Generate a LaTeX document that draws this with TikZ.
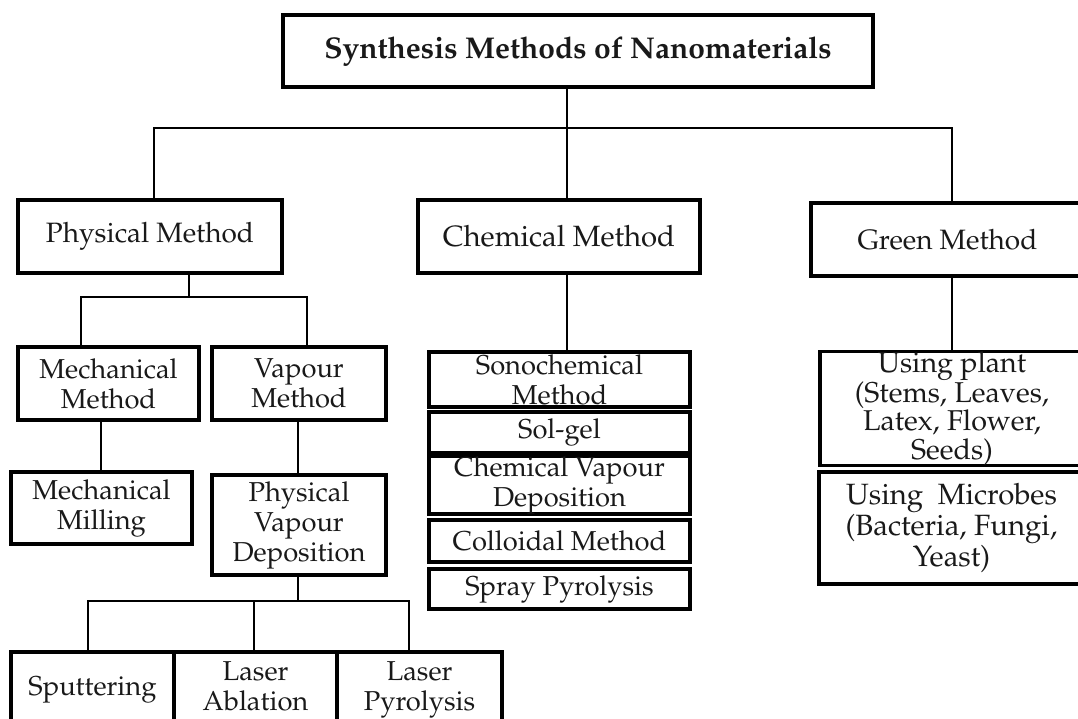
\documentclass[tikz,border=0pt]{standalone}
\usepackage[T1]{fontenc}
\usepackage{mathpazo}
\newcommand\myfs{\fontsize{20.5}{22.5}\selectfont}
\newcommand\bigfs{\fontsize{22}{24}\selectfont}
\newcommand\bx[7][]{%
  \node[box,#1,minimum width={(#5-#3)*0.75pt},minimum height={(#6-#4)*0.75pt}]
    (#2) at ({(#3+#5)/2},{(#4+#6)/2}) {#7};}
\begin{document}
\begin{tikzpicture}[x=0.75pt,y=-0.75pt,
  box/.style={draw=black, line width=2.7pt, inner sep=0pt, align=center, font=\myfs, text=black!90},
  conn/.style={draw=black, line width=1.6pt}]
\useasboundingbox (0,0) rectangle (1078,718);
\clip (0,0) rectangle (1078,718);
% boxes
\bx[font=\fontsize{22.5}{24}\selectfont\bfseries]{top}{283}{15}{873}{87}{Synthesis Methods of Nanomaterials}
\bx[font=\fontsize{21}{23}\selectfont]{phys}{18}{200}{282}{273}{Physical Method}
\bx[font=\bigfs]{chem}{418}{200}{700}{273}{Chemical Method}
\bx[font=\fontsize{21}{23}\selectfont]{green}{811}{203}{1084}{276}{Green Method}
\bx{mech}{18}{347}{199}{420}{Mechanical\\Method}
\bx{vap}{212}{347}{386}{420}{Vapour\\Method}
\bx{mill}{11}{472}{192}{544}{Mechanical\\Milling}
\bx{pvd}{212}{475}{386}{575}{Physical\\Vapour\\Deposition}
\bx{sput}{11}{652}{174}{728}{Sputtering}
\bx[text depth=14pt]{abl}{174}{652}{337}{738}{Laser\\Ablation}
\bx[text depth=14pt]{pyro}{337}{652}{502}{738}{Laser\\Pyrolysis}
\bx{sono}{429}{352}{690}{407}{Sonochemical\\Method}
\bx{sol}{429}{412}{690}{453}{Sol-gel}
\bx{cvd}{429}{457}{690}{513}{Chemical Vapour\\Deposition}
\bx{coll}{429}{520}{690}{562}{Colloidal Method}
\bx{spray}{429}{569}{690}{609}{Spray Pyrolysis}
\bx[font=\fontsize{21.5}{21.5}\selectfont]{plant}{820}{353}{1084}{464}{Using plant\\(Stems, Leaves,\\Latex, Flower,\\Seeds)}
\bx[font=\fontsize{22}{23}\selectfont]{micro}{819}{472}{1084}{584}{Using~~Microbes\\(Bacteria, Fungi,\\Yeast)}
% junction coordinates
\coordinate (hub) at (567,128);
\coordinate (busL) at (154,128);
\coordinate (busR) at (952,128);
\coordinate (pj) at (189,297);
\coordinate (pl) at (81,297);
\coordinate (pr) at (307,297);
\coordinate (mx) at (101,0);
\coordinate (vx) at (298,0);
\coordinate (dj) at (298,601);
\coordinate (dl) at (88,601);
\coordinate (dm) at (254,601);
\coordinate (dr) at (409,601);
% connectors
\draw[conn] (top.south -| hub) -- (chem.north -| hub);
\draw[conn] (phys.north -| busL) -- (busL) -- (busR) -- (green.north -| busR);
\draw[conn] (phys.south -| pj) -- (pj);
\draw[conn] (mech.north -| pl) -- (pl) -- (pr) -- (vap.north -| pr);
\draw[conn] (mech.south -| mx) -- (mill.north -| mx);
\draw[conn] (vap.south -| vx) -- (pvd.north -| vx);
\draw[conn] (pvd.south -| dj) -- (dj);
\draw[conn] (sput.north -| dl) -- (dl) -- (dr) -- (pyro.north -| dr);
\draw[conn] (dm) -- (abl.north -| dm);
\draw[conn] (chem.south -| hub) -- (sono.north -| hub);
\draw[conn] (green.south -| busR) -- (plant.north -| busR);
\end{tikzpicture}
\end{document}
